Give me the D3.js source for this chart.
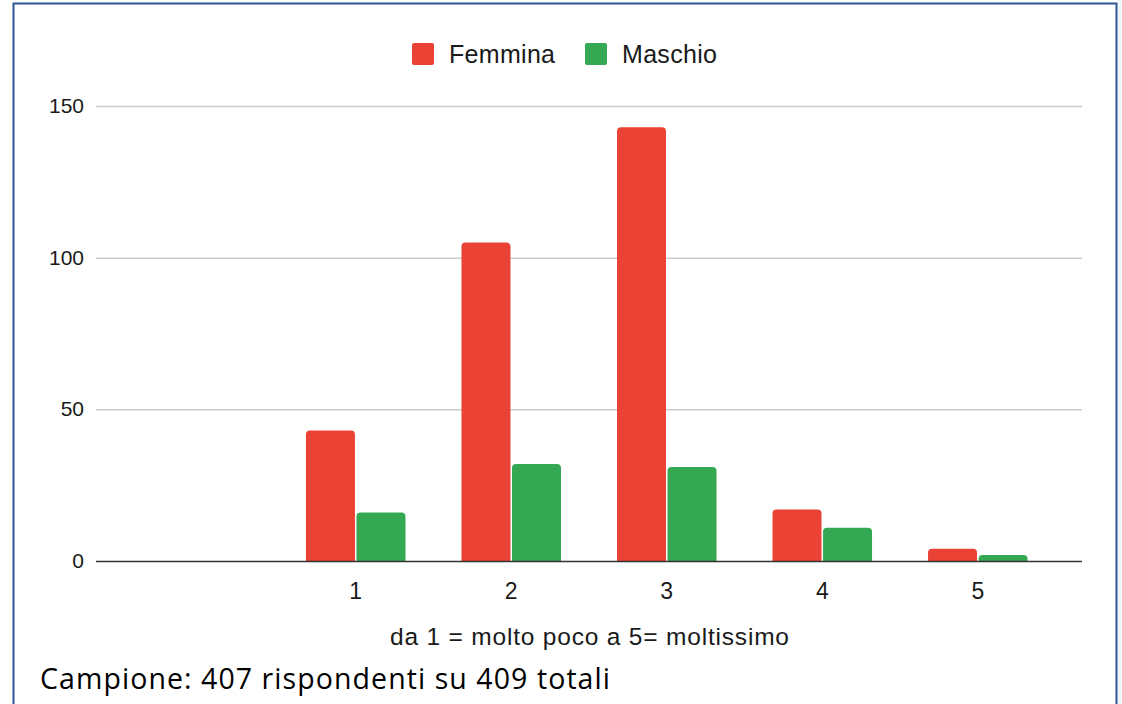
<!DOCTYPE html>
<html>
<head>
<meta charset="utf-8">
<script src="https://cdn.jsdelivr.net/npm/d3@7"></script>
<style>
  body { margin: 0; background: #ffffff; }
  svg { display: block; }
</style>
</head>
<body>
<div id="chart"></div>
<script>
// categories (the first slot is empty in the original chart)
const categories = ["", "1", "2", "3", "4", "5"];
const femmina = [0, 43, 105, 143, 17, 4];
const maschio = [0, 16, 32, 31, 11, 2];
const seriesNames = ["Femmina", "Maschio"];
const seriesColors = ["#ea4335", "#34a853"];
const yTicks = [0, 50, 100, 150];
const xTitle = "da 1 = molto poco a 5= moltissimo";
const caption = "Campione: 407 rispondenti su 409 totali";

const W = 1122, H = 704;
const plot = { left: 96, right: 1082, top: 106, bottom: 561 };
const font = "Liberation Sans, Arial, sans-serif";

const svg = d3.select("#chart").append("svg")
    .attr("width", W)
    .attr("height", H);

// light strip on the right, outside the frame
svg.append("rect").attr("x", 1118).attr("y", 0).attr("width", 4).attr("height", H).attr("fill", "#f3f6fa");

// frame
svg.append("path")
   .attr("d", `M13.5,${H} V3.5 H1116.5 V${H}`)
   .attr("fill", "none")
   .attr("stroke", "#2f5597")
   .attr("stroke-width", 2);

const x0 = d3.scaleBand()
    .domain(categories)
    .range([plot.left, plot.right])
    .paddingInner(0)
    .paddingOuter(0.17);

const x1 = d3.scaleBand()
    .domain(seriesNames)
    .range([0, x0.bandwidth() * 0.64])
    .paddingInner(0.03);

const y = d3.scaleLinear()
    .domain([0, 150])
    .range([plot.bottom, plot.top]);

// grid lines
svg.append("g")
   .selectAll("line")
   .data(yTicks.filter(d => d !== 0))
   .join("line")
   .attr("x1", plot.left)
   .attr("x2", plot.right)
   .attr("y1", d => y(d) + 0.5)
   .attr("y2", d => y(d) + 0.5)
   .attr("stroke", "#cccccc")
   .attr("stroke-width", 1.5);

// y labels
svg.append("g")
   .selectAll("text")
   .data(yTicks)
   .join("text")
   .attr("x", 84)
   .attr("y", d => y(d) + 7)
   .attr("text-anchor", "end")
   .attr("font-family", font)
   .attr("font-size", 21)
   .attr("fill", "#1a1a1a")
   .text(d => d);

// bars with rounded tops
function barPath(xp, w, top, bottom, r) {
    const h = bottom - top;
    if (h <= 0) return "";
    r = Math.min(r, h, w / 2);
    return `M${xp},${bottom} V${top + r} Q${xp},${top} ${xp + r},${top} H${xp + w - r} Q${xp + w},${top} ${xp + w},${top + r} V${bottom} Z`;
}

const rows = categories.map((c, i) => ({ cat: c, vals: [femmina[i], maschio[i]] }));
const groupOffset = (x0.bandwidth() - x1.range()[1]) / 2;

const groups = svg.append("g")
   .selectAll("g")
   .data(rows)
   .join("g")
   .attr("transform", d => `translate(${x0(d.cat) + groupOffset},0)`);

groups.selectAll("path")
   .data(d => d.vals.map((v, k) => ({ name: seriesNames[k], v: v, k: k })))
   .join("path")
   .attr("fill", d => seriesColors[d.k])
   .attr("d", d => barPath(x1(d.name), x1.bandwidth(), y(d.v), y(0), 4));

// baseline
svg.append("line")
   .attr("x1", plot.left)
   .attr("x2", plot.right)
   .attr("y1", y(0) + 0.5)
   .attr("y2", y(0) + 0.5)
   .attr("stroke", "#333333")
   .attr("stroke-width", 1.5);

// x labels
svg.append("g")
   .selectAll("text")
   .data(categories)
   .join("text")
   .attr("x", d => x0(d) + x0.bandwidth() / 2)
   .attr("y", 599)
   .attr("text-anchor", "middle")
   .attr("font-family", font)
   .attr("font-size", 23)
   .attr("fill", "#1a1a1a")
   .text(d => d);

// x title
svg.append("text")
   .attr("x", 390)
   .attr("y", 645)
   .attr("textLength", 399)
   .attr("lengthAdjust", "spacing")
   .attr("font-family", font)
   .attr("font-size", 24.5)
   .attr("fill", "#1a1a1a")
   .text(xTitle);

// legend
const legend = svg.append("g").attr("transform", "translate(412,43)");
const legX = [0, 173];
const legW = [106, 95];
seriesNames.forEach((name, i) => {
    legend.append("rect")
       .attr("x", legX[i]).attr("y", 0)
       .attr("width", 22).attr("height", 22)
       .attr("rx", 2)
       .attr("fill", seriesColors[i]);
    legend.append("text")
       .attr("x", legX[i] + 37).attr("y", 20)
       .attr("textLength", legW[i])
       .attr("lengthAdjust", "spacing")
       .attr("font-family", font)
       .attr("font-size", 25)
       .attr("fill", "#1a1a1a")
       .text(name);
});

// caption
svg.append("text")
   .attr("x", 40)
   .attr("y", 689)
   .attr("textLength", 570)
   .attr("lengthAdjust", "spacing")
   .attr("font-family", "'Open Sans', Lato, sans-serif")
   .attr("font-size", 28.5)
   .attr("fill", "#000")
   .text(caption);
</script>
</body>
</html>
